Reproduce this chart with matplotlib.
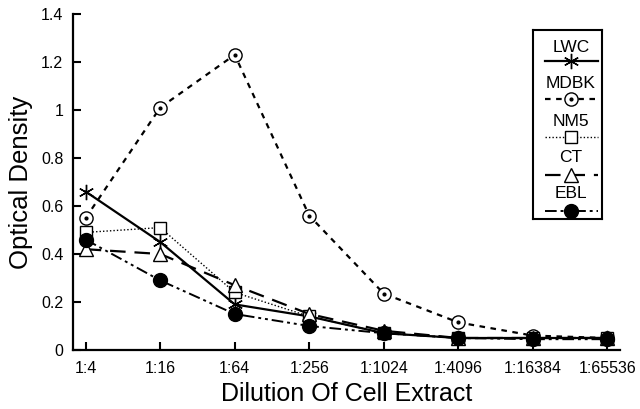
import matplotlib
matplotlib.use("Agg")
import matplotlib.pyplot as plt
import numpy as np

plt.rcParams['font.family'] = ['Liberation Sans', 'DejaVu Sans']

dilutions = ['1:4', '1:16', '1:64', '1:256', '1:1024', '1:4096', '1:16384', '1:65536']
lwc = [0.66, 0.45, 0.19, 0.14, 0.07, 0.05, 0.05, 0.05]
mdbk = [0.55, 1.01, 1.23, 0.56, 0.235, 0.115, 0.06, 0.05]
nm5 = [0.49, 0.51, 0.24, 0.14, 0.07, 0.05, 0.05, 0.05]
ct = [0.42, 0.40, 0.27, 0.15, 0.08, 0.05, 0.05, 0.05]
ebl = [0.46, 0.29, 0.15, 0.10, 0.07, 0.05, 0.045, 0.045]
yticks = [0, 0.2, 0.4, 0.6, 0.8, 1, 1.2, 1.4]
ytick_labels = ['0', '0.2', '0.4', '0.6', '0.8', '1', '1.2', '1.4']

names = ['LWC', 'MDBK', 'NM5', 'CT', 'EBL']
series = [lwc, mdbk, nm5, ct, ebl]
styles = [
    dict(ls='-', lw=1.6, marker=(6, 2, 0), ms=11, mfc='black', mec='black', mew=1.0),
    dict(ls=(0, (2.5, 2.5)), lw=1.6, marker='o', ms=9.5, mfc='white', mec='black', mew=1.0),
    dict(ls=(0, (1, 1.5)), lw=1.0, marker='s', ms=8.5, mfc='white', mec='black', mew=1.0),
    dict(ls=(0, (7, 4)), lw=1.6, marker='^', ms=10, mfc='white', mec='black', mew=1.0),
    dict(ls=(0, (6, 2, 1.5, 2, 1.5, 2)), lw=1.4, marker='o', ms=10, mfc='black', mec='black', mew=1.0),
]

fig = plt.figure(figsize=(6.4, 4.09), dpi=100)
ax = fig.add_axes([73/640, 1 - 350/409, (620-73)/640, (350-14)/409])
x = np.arange(len(dilutions))
for name, vals, st in zip(names, series, styles):
    ax.plot(x, vals, color='black', label=name, **st)
    if name == 'MDBK':
        ax.plot(x, vals, ls='none', marker='o', ms=2, color='black')

ax.set_xlim(-0.17, 7.17)
ax.set_ylim(0, 1.4)
ax.set_xticks(x)
ax.set_xticklabels(dilutions, fontsize=11.5)
ax.set_yticks(yticks)
ax.set_yticklabels(ytick_labels, fontsize=11.5)
ax.spines['top'].set_visible(False)
ax.spines['right'].set_visible(False)
ax.spines['left'].set_linewidth(1.6)
ax.spines['bottom'].set_linewidth(1.6)
ax.tick_params(axis='x', direction='in', length=6, width=1.5, pad=8)
ax.tick_params(axis='y', direction='in', length=6, width=1.5, pad=7)
ax.set_xlabel('Dilution Of Cell Extract', fontsize=18, labelpad=4)
ax.set_ylabel('Optical Density', fontsize=18.5, labelpad=6)

# legend box: label above sample line
lax = fig.add_axes([533/640, 1 - 219/409, (602-533)/640, (219-30)/409])
lax.set_xlim(533, 602)
lax.set_ylim(219, 30)
lax.set_xticks([])
lax.set_yticks([])
for s in lax.spines.values():
    s.set_linewidth(1.5)
text_y = [47, 84, 121, 158, 194]
line_y = [61, 99, 137, 175, 211]
for name, st, ty, ly in zip(names, styles, text_y, line_y):
    lax.text(571, ty, name, ha='center', va='center', fontsize=12.5)
    st2 = dict(st)
    mk = st2.pop('marker')
    ms = st2.pop('ms')
    mfc = st2.pop('mfc'); mec = st2.pop('mec'); mew = st2.pop('mew')
    lax.plot([545, 598], [ly, ly], color='black', **st2)
    lax.plot([571], [ly], ls='none', marker=mk, ms=ms, mfc=mfc, mec=mec, mew=mew)
    if name == 'MDBK':
        lax.plot([571], [ly], ls='none', marker='o', ms=2, color='black')

fig.savefig('out.png', dpi=100)
